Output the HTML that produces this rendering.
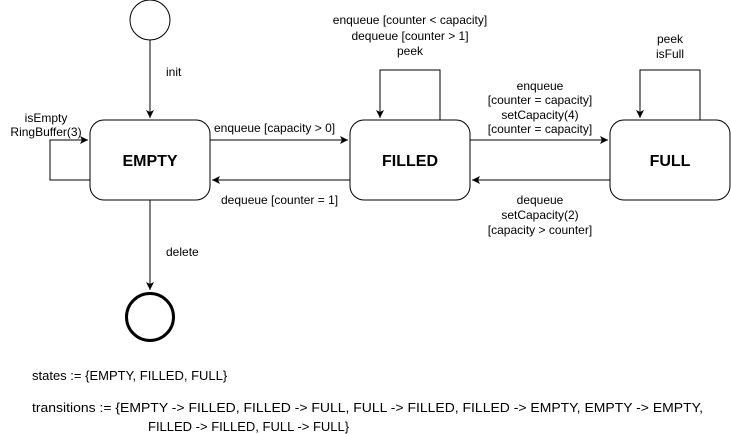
<!DOCTYPE html>
<html><head><meta charset="utf-8"><style>
html,body{margin:0;padding:0;background:#fff;}
svg{display:block;font-family:"Liberation Sans",Arial,sans-serif;}
</style></head><body>
<svg width="731" height="434" viewBox="0 0 731 434" xmlns="http://www.w3.org/2000/svg">
<defs><marker id="a" markerWidth="10" markerHeight="10" refX="8" refY="4" orient="auto" markerUnits="userSpaceOnUse"><path d="M0,0 L8,4 L0,8 L2,4 Z" fill="#000"/></marker></defs>
<g fill="none" stroke="#000" stroke-width="1">
<circle cx="150" cy="20" r="20"/>
<circle cx="150" cy="317" r="23.5" stroke-width="3"/>
<rect x="90" y="120" width="120" height="80" rx="14"/>
<rect x="350" y="120" width="120" height="80" rx="14"/>
<rect x="610" y="120" width="120" height="80" rx="14"/>
<path d="M150,40 V118" marker-end="url(#a)"/>
<path d="M150,200 V290" marker-end="url(#a)"/>
<path d="M210,140 H348" marker-end="url(#a)"/>
<path d="M350,180 H212" marker-end="url(#a)"/>
<path d="M470,140 H608" marker-end="url(#a)"/>
<path d="M610,180 H472" marker-end="url(#a)"/>
<path d="M90,180 H50 V140 H88" marker-end="url(#a)"/>
<path d="M440,120 V70 H380 V118" marker-end="url(#a)"/>
<path d="M700,120 V70 H640 V118" marker-end="url(#a)"/>
</g>
<g font-size="12" fill="#000">
<text x="166" y="76">init</text>
<text x="166" y="256">delete</text>
<text x="46" y="122" text-anchor="middle">isEmpty</text>
<text x="46" y="136" text-anchor="middle">RingBuffer(3)</text>
<text x="214" y="132">enqueue [capacity &gt; 0]</text>
<text x="221" y="204">dequeue [counter = 1]</text>
<text x="410" y="24" text-anchor="middle">enqueue [counter &lt; capacity]</text>
<text x="410" y="40" text-anchor="middle">dequeue [counter &gt; 1]</text>
<text x="410" y="55" text-anchor="middle">peek</text>
<text x="540" y="90" text-anchor="middle">enqueue</text>
<text x="540" y="104" text-anchor="middle">[counter = capacity]</text>
<text x="540" y="119" text-anchor="middle">setCapacity(4)</text>
<text x="540" y="133" text-anchor="middle">[counter = capacity]</text>
<text x="540" y="204" text-anchor="middle">dequeue</text>
<text x="540" y="219" text-anchor="middle">setCapacity(2)</text>
<text x="540" y="234" text-anchor="middle">[capacity &gt; counter]</text>
<text x="670" y="43" text-anchor="middle">peek</text>
<text x="670" y="58" text-anchor="middle">isFull</text>
</g>
<g font-size="16" font-weight="bold" text-anchor="middle">
<text x="150" y="166">EMPTY</text>
<text x="410" y="166">FILLED</text>
<text x="670" y="166">FULL</text>
</g>
<g font-size="13">
<text x="32" y="380">states := {EMPTY, FILLED, FULL}</text>
<text x="32" y="412" textLength="671" lengthAdjust="spacingAndGlyphs">transitions := {EMPTY -&gt; FILLED, FILLED -&gt; FULL, FULL -&gt; FILLED, FILLED -&gt; EMPTY, EMPTY -&gt; EMPTY,</text>
<text x="148" y="431">FILLED -&gt; FILLED, FULL -&gt; FULL}</text>
</g>
</svg>
</body></html>
